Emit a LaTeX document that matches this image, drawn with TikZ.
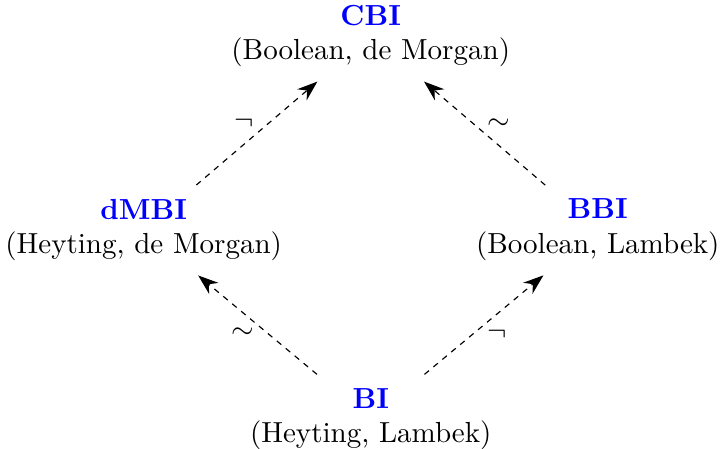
\documentclass[tikz,border=0pt]{standalone}
\usetikzlibrary{positioning, arrows.meta}

\begin{document}
\begin{tikzpicture}[
        logic/.style={align=center, inner sep=2pt},
        op/.style={inner sep=1pt},
        arr/.style={-{Stealth[length=7pt, width=5pt]}, dash pattern=on 2pt off 2pt, shorten <=0.14cm, shorten >=0.15cm}
    ]
    \useasboundingbox (0,0) rectangle (8.72,5.426);

    % Logics
    \node[logic] (cbi)  at (4.49,4.99) {\textcolor{blue}{\textbf{CBI}}\\(Boolean, de Morgan)};
    \node[logic] (dmbi) at (1.74,2.64) {\textcolor{blue}{\textbf{dMBI}}\\(Heyting, de Morgan)};
    \node[logic] (bbi)  at (7.24,2.64) {\textcolor{blue}{\textbf{BBI}}\\(Boolean, Lambek)};
    \node[logic] (bi)   at (4.49,0.35) {\textcolor{blue}{\textbf{BI}}\\(Heyting, Lambek)};

    % Extensions
    \draw[arr] (bi) -- node[op, below left] (l1) {$\sim$} (dmbi);
    \draw[arr] (bi) -- node[op, below right] (l2) {$\neg$} (bbi);
    \draw[arr] (dmbi) -- node[op, above left] (l3) {$\neg$} (cbi);
    \draw[arr] (bbi) -- node[op, above right] (l4) {$\sim$} (cbi);
\end{tikzpicture}
\end{document}
